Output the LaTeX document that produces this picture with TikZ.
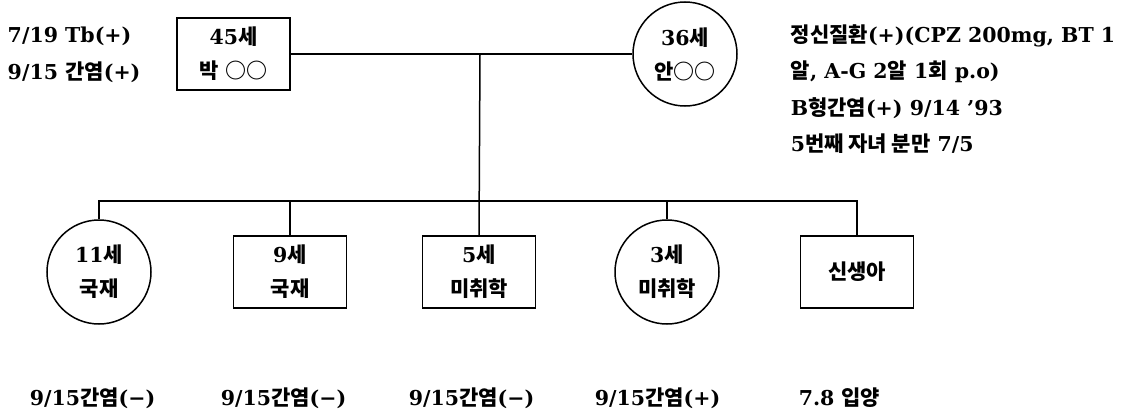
\documentclass[tikz,border=0pt]{standalone}
\usepackage{fontspec}
\setmainfont{DejaVu Serif}
\newfontfamily\kr{Noto Sans CJK KR}
\newcommand{\K}[1]{{\kr\fontsize{21}{34}\selectfont #1}}
\begin{document}
\begin{tikzpicture}[x=1pt,y=-1pt, line width=1.5pt,
  every node/.style={font=\fontsize{20.5}{34}\selectfont\bfseries, inner sep=0pt},
  male/.style={draw, rectangle, minimum width=113pt, minimum height=72pt, align=center},
  female/.style={draw, circle, minimum size=104pt, align=center},
  note/.style={anchor=west}]
\useasboundingbox (0,0) rectangle (1148,415);
% parents
\node[male] (fa) at (233.5,54) {45\K{세}\\\K{박} \K{○○}};
\node[female] (mo) at (685,54) {36\K{세}\\\K{안○○}};
\draw (fa.east) -- (mo.west);
\coordinate (m) at (480,54);
\coordinate (sib) at (480,201);
% children
\node[female] (c1) at (99,272) {11\K{세}\\\K{국재}};
\node[male] (c2) at (290,272) {9\K{세}\\\K{국재}};
\node[male] (c3) at (479,272) {5\K{세}\\\K{미취학}};
\node[female] (c4) at (667,272) {3\K{세}\\\K{미취학}};
\node[male] (c5) at (857,272) {\K{신생아}};
\draw (m) -- (c3.north);
\draw (c1.north) |- (sib) -| (c5.north);
\draw (c2.north) -- (c2.north |- sib);
\draw (c4.north) -- (c4.north |- sib);
% notes
\node[note] (n1) at (7,36) {7/19 Tb(+)};
\node[note] (n2) at (7,72) {9/15 \K{간염}(+)};
\node[note] (r1) at (790,36) {\K{정신질환}(+)(CPZ 200mg, BT 1};
\node[note] (r2) at (790,72) {\K{알}, A-G 2\K{알} 1\K{회} p.o)};
\node[note] (r3) at (790,108) {B\K{형간염}(+) 9/14 '93};
\node[note] (r4) at (790,144) {5\K{번째 자녀 분만} 7/5};
\node[note] (b1) at (29,398) {9/15\K{간염}(−)};
\node[note] (b2) at (220,398) {9/15\K{간염}(−)};
\node[note] (b3) at (408,398) {9/15\K{간염}(−)};
\node[note] (b4) at (594,398) {9/15\K{간염}(+)};
\node[note] (b5) at (798,398) {7.8 \K{입양}};
\end{tikzpicture}
\end{document}
